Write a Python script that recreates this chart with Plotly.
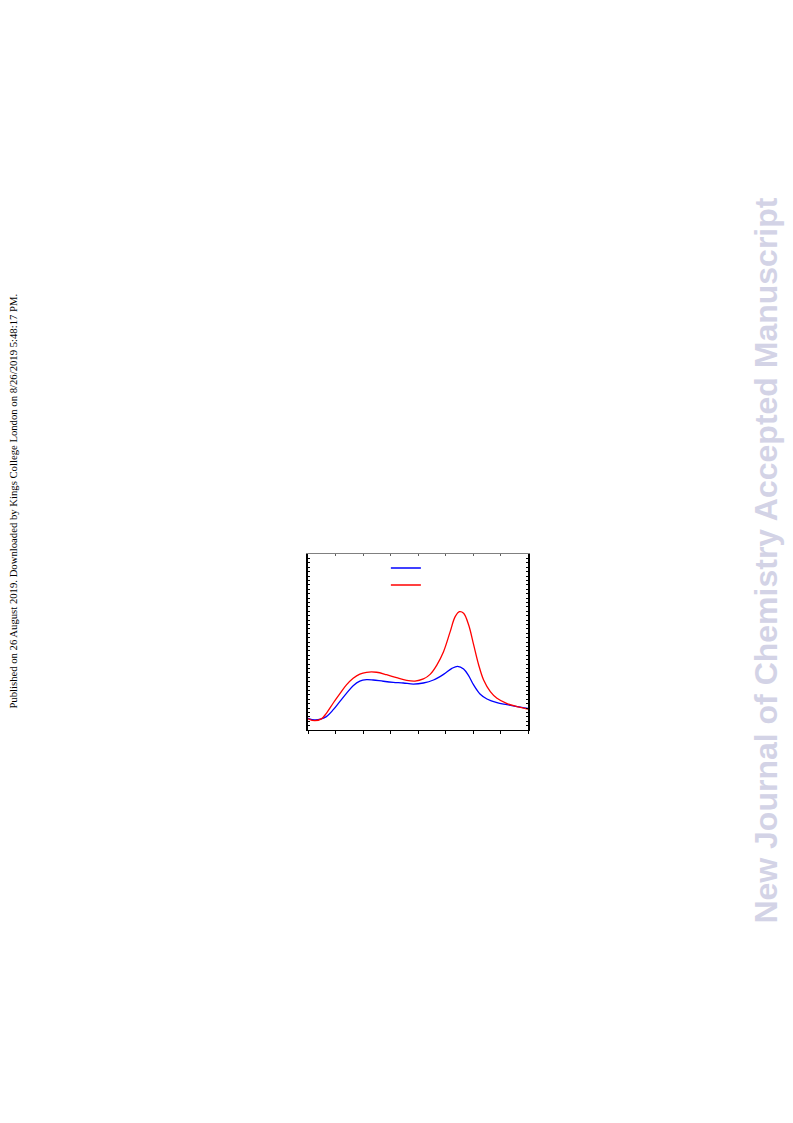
import plotly.graph_objects as go

# Wavelength-like x values (axis labels not shown in reference)
x_blue = [250.0, 262.2, 274.3, 283.4, 295.6, 307.7, 319.9, 332.1, 344.2, 356.4, 368.5,
          386.8, 405.0, 423.3, 441.6, 459.8, 478.1, 496.4, 511.6, 521.9, 532.9,
          542.0, 551.1, 563.2, 575.4, 593.6, 611.9, 630.1, 650.2]
y_blue = [0.066, 0.057, 0.063, 0.076, 0.114, 0.161, 0.208, 0.252, 0.278, 0.286, 0.284,
          0.277, 0.271, 0.267, 0.261, 0.267, 0.284, 0.316, 0.350, 0.362, 0.347,
          0.309, 0.256, 0.203, 0.176, 0.155, 0.144, 0.133, 0.123]

x_red = [250.0, 262.2, 274.3, 283.4, 295.6, 307.7, 319.9, 332.1, 344.2, 356.4, 374.6,
         392.9, 411.1, 429.4, 444.6, 459.8, 472.0, 484.2, 496.4, 508.5, 517.6,
         525.5, 532.9, 542.0, 551.1, 560.2, 569.3, 581.5, 593.6, 611.9, 630.1, 650.2]
y_red = [0.064, 0.053, 0.063, 0.095, 0.152, 0.205, 0.256, 0.294, 0.318, 0.328, 0.328,
         0.314, 0.297, 0.282, 0.278, 0.290, 0.316, 0.369, 0.445, 0.559, 0.644,
         0.672, 0.663, 0.598, 0.485, 0.371, 0.284, 0.218, 0.180, 0.150, 0.133, 0.119]

series_names = [" ", " "]

fig = go.Figure()
fig.add_trace(go.Scatter(x=x_blue, y=y_blue, mode="lines", name=series_names[0],
                         legend="legend",
                         line=dict(color="#0000ff", width=1.3, shape="spline", smoothing=1.0)))
fig.add_trace(go.Scatter(x=x_red, y=y_red, mode="lines", name=series_names[1],
                         legend="legend2",
                         line=dict(color="#ff0000", width=1.3, shape="spline", smoothing=1.0)))
# invisible trace to drive top axis
fig.add_trace(go.Scatter(x=[250, 650], y=[None, None], xaxis="x2", showlegend=False,
                         hoverinfo="skip"))

fig.update_layout(
    width=785, height=1115,
    margin=dict(l=300, r=265, t=546, b=393),
    paper_bgcolor="white", plot_bgcolor="white",
    showlegend=True,
    legend=dict(x=0.354, y=(730 - 568) / 176, xanchor="left", yanchor="middle",
                bgcolor="rgba(0,0,0,0)", font=dict(size=9), itemwidth=30),
    legend2=dict(x=0.354, y=(730 - 585) / 176, xanchor="left", yanchor="middle",
                 bgcolor="rgba(0,0,0,0)", font=dict(size=9), itemwidth=30),
    xaxis=dict(range=[250, 650], showgrid=False, zeroline=False,
               showline=True, linecolor="black", linewidth=1,
               ticks="outside", ticklen=3, tickcolor="black", dtick=100,
               showticklabels=False,
               minor=dict(ticks="outside", ticklen=3, dtick=50, tickcolor="black")),
    xaxis2=dict(range=[250, 650], overlaying="x", side="top", showgrid=False,
                zeroline=False, showline=True, linecolor="#808080", linewidth=1,
                ticks="inside", ticklen=2, tickcolor="#606060", dtick=50,
                showticklabels=False),
    yaxis=dict(range=[0, 1], showgrid=False, zeroline=False,
               showline=True, linecolor="black", linewidth=1.5, mirror="ticks",
               ticks="inside", ticklen=2, tickcolor="black", dtick=0.025,
               showticklabels=False),
)

fig.add_annotation(
    text="Published on 26 August 2019. Downloaded by Kings College London on 8/26/2019 5:48:17 PM.",
    xref="paper", yref="paper", x=(13 - 308) / 219.7, y=(730 - 501) / 176,
    textangle=-90, showarrow=False, xanchor="center", yanchor="middle",
    font=dict(family="Liberation Serif, Times New Roman, serif", size=10.7, color="black"))

fig.add_annotation(
    text="<b>New Journal of Chemistry Accepted Manuscript</b>",
    xref="paper", yref="paper", x=(765 - 308) / 219.7, y=(730 - 561) / 176,
    textangle=-90, showarrow=False, xanchor="center", yanchor="middle",
    font=dict(family="Liberation Sans, Arial, sans-serif", size=32, color="#d3d3e6"))

fig.write_html("out.html")
